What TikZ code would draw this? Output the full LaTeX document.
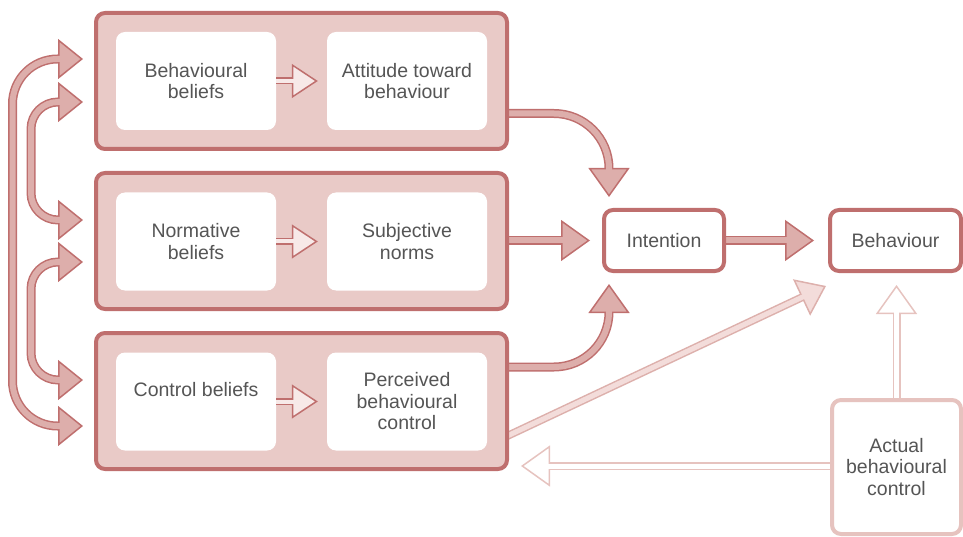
\documentclass[tikz,border=0pt]{standalone}
\usepackage{fontspec}
\setmainfont{Liberation Sans}
\usetikzlibrary{arrows.meta,calc}
\definecolor{dk}{HTML}{BF6F6E}
\definecolor{boxfill}{HTML}{E9CAC7}
\definecolor{afill}{HTML}{DDAEAB}
\definecolor{sfill}{HTML}{F7E9E8}
\definecolor{fline}{HTML}{DDB0AC}
\definecolor{ffill}{HTML}{F3DCDA}
\definecolor{hline}{HTML}{E6C3BF}
\definecolor{txt}{HTML}{555555}
\pgfdeclarelayer{bg}
\pgfsetlayers{bg,main}
\tikzset{
  lbl/.style={text=txt, align=center, font=\fontsize{19.5}{21.5}\selectfont},
  outerbox/.style={draw=dk, line width=4pt, fill=boxfill, rounded corners=9pt,
    minimum width=411pt, minimum height=136pt, inner sep=0pt},
  innerbox/.style={fill=white, rounded corners=9pt, minimum width=160pt,
    minimum height=98pt, inner sep=0pt, lbl},
  mainbox/.style={draw=dk, line width=4pt, fill=white, rounded corners=9pt,
    minimum height=61pt, inner sep=0pt, lbl},
  actbox/.style={draw=hline, line width=4pt, fill=white, rounded corners=9pt,
    minimum width=129pt, minimum height=134pt, inner sep=0pt, lbl},
  fat/.style={line width=9pt, draw=dk,
    -{Triangle[length=29pt,width=41pt,line width=1.5pt,fill=afill]},
    postaction={draw=afill, line width=6pt, -, shorten >=26pt}},
  fatboth/.style={line width=9pt, draw=dk,
    {Triangle[length=25pt,width=40pt,line width=1.5pt,fill=afill]}-{Triangle[length=25pt,width=40pt,line width=1.5pt,fill=afill]},
    postaction={draw=afill, line width=6pt, -, shorten >=22pt, shorten <=22pt}},
  small/.style={line width=7pt, draw=dk,
    -{Triangle[length=26pt,width=34pt,line width=1.5pt,fill=sfill]},
    postaction={draw=sfill, line width=4pt, -, shorten >=23pt}},
  faintfat/.style={line width=8pt, draw=fline,
    -{Triangle[length=27pt,width=40pt,line width=1.5pt,fill=ffill]},
    postaction={draw=ffill, line width=5pt, -, shorten >=24pt}},
  hollow/.style={line width=8pt, draw=hline,
    -{Triangle[length=29pt,width=41pt,line width=1.5pt,fill=white]},
    postaction={draw=white, line width=5pt, -, shorten >=26pt}},
}
\begin{document}
\begin{tikzpicture}[x=1pt,y=-1pt]
\useasboundingbox (0,0) rectangle (963,537);
% outer boxes
\node[outerbox] (b1) at (301.5,81) {};
\node[outerbox] (b2) at (301.5,241) {};
\node[outerbox] (b3) at (301.5,401) {};
% inner boxes
\node[innerbox] (i1) at (196,81) {Behavioural\\beliefs};
\node[innerbox] (i2) at (407,81) {Attitude toward\\behaviour};
\node[innerbox] (i3) at (196,241.5) {Normative\\beliefs};
\node[innerbox] (i4) at (407,241.5) {Subjective\\norms};
\node[innerbox] (i5) at (196,401.5) {};
\node[lbl] (i5t) at (196,390) {Control beliefs};
\node[innerbox] (i6) at (407,401.5) {Perceived\\behavioural\\control};
% right boxes
\node[mainbox, minimum width=120pt] (int) at (664,240.5) {Intention};
\node[mainbox, minimum width=131pt] (beh) at (895.5,240.5) {Behaviour};
\node[actbox] (act) at (896.5,467) {Actual\\behavioural\\control};
% coordinates
\coordinate (L1a) at ($(b1.west)+(-11,-22)$);
\coordinate (L1b) at ($(b3.west)+(-11,25)$);
\coordinate (L2a) at ($(b1.west)+(-11,21)$);
\coordinate (L2b) at ($(b2.west)+(-11,-21)$);
\coordinate (L3a) at ($(b2.west)+(-11,21)$);
\coordinate (L3b) at ($(b3.west)+(-11,-21)$);
\coordinate (A1s) at ($(b1.east)+(-4,32.5)$);
\coordinate (A1e) at ($(int.north west)+(7,-11)$);
\coordinate (A2s) at ($(b2.east)+(-4,-0.5)$);
\coordinate (A2e) at ($(int.west)+(-12,0)$);
\coordinate (A3s) at ($(b3.east)+(-4,-34)$);
\coordinate (A3e) at ($(int.south west)+(7,11)$);
\coordinate (IBe) at ($(beh.west)+(-14,0)$);
\coordinate (Ds) at ($(b3.east)+(-6,37)$);
\coordinate (De) at ($(beh.south west)+(-2,13)$);
\coordinate (Ue) at ($(act.north)+(0,-113)$);
\coordinate (Ls) at ($(act.west)+(0,-1)$);
\coordinate (Le) at ($(act.west -| b3.east)+(12,-1)$);
\begin{pgfonlayer}{bg}
\draw[fat, rounded corners=55pt] (A1s) -| (A1e);
\draw[fat] (A2s) -- (A2e);
\draw[fat, rounded corners=55pt] (A3s) -| (A3e);
\draw[fat] ($(int.east)+(-4,0)$) -- (IBe);
\draw[faintfat] (Ds) -- (De);
\draw[hollow] ($(act.north)+(0,4)$) -- (Ue);
\draw[hollow] ($(Ls)+(4,0)$) -- (Le);
\end{pgfonlayer}
% left feedback arrows
\draw[fatboth, rounded corners=45pt] (L1a) -- ++(-70.5,0) |- (L1b);
\draw[fatboth, rounded corners=27pt] (L2a) -- ++(-52,0) |- (L2b);
\draw[fatboth, rounded corners=27pt] (L3a) -- ++(-52,0) |- (L3b);
% small arrows
\draw[small] (i1.east) -- ($(i2.west)+(-9,0)$);
\draw[small] (i3.east) -- ($(i4.west)+(-9,0)$);
\draw[small] (i5.east) -- ($(i6.west)+(-9,0)$);
\end{tikzpicture}
\end{document}
